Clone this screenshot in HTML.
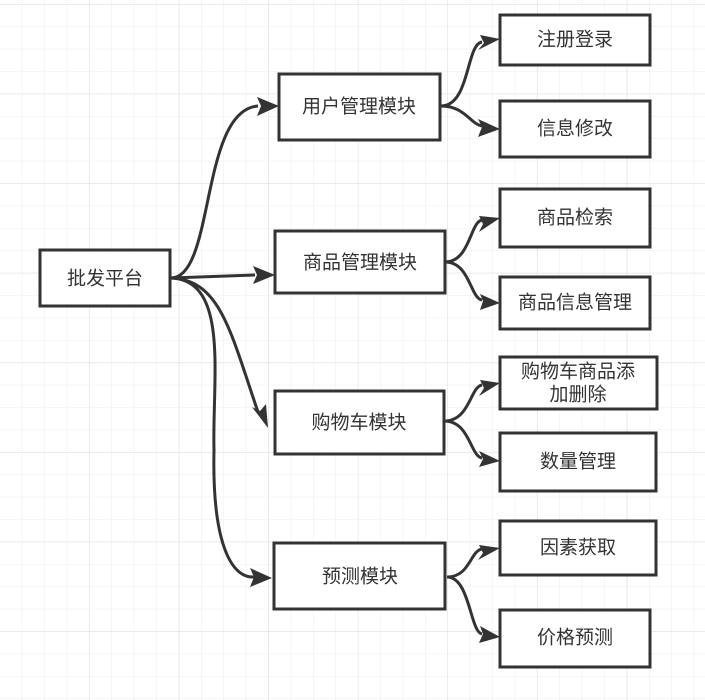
<!DOCTYPE html>
<html><head><meta charset="utf-8"><style>
html,body{margin:0;padding:0;background:#fff;}
svg{display:block}
text{font-family:"Liberation Sans","Noto Sans CJK SC",sans-serif;font-size:19px;fill:#333;text-anchor:middle;dominant-baseline:central}
</style></head><body>
<svg width="705" height="700" viewBox="0 0 705 700" xmlns="http://www.w3.org/2000/svg">
<defs>
<pattern id="g" x="0" y="4" width="22.4" height="22.4" patternUnits="userSpaceOnUse">
<path d="M22.4 0V22.4M0 0H22.4" stroke="#ececec" stroke-width="1" fill="none"/>
</pattern>
<pattern id="G" x="0" y="4" width="89.6" height="89.6" patternUnits="userSpaceOnUse">
<path d="M89.6 0V89.6M0 0H89.6" stroke="#e2e2e2" stroke-width="1.2" fill="none"/>
</pattern>
<marker id="a" viewBox="0 0 10 10" refX="9" refY="5" markerWidth="7" markerHeight="7" orient="auto" markerUnits="userSpaceOnUse" style="overflow:visible">
<path d="M-10 -6 L10 5 L-10 16 L-5 5 Z" fill="#333" transform="translate(0,0)"/>
</marker>
</defs>
<rect width="705" height="700" fill="url(#g)"/>
<rect width="705" height="700" fill="url(#G)"/>
<g fill="none" stroke="#333" stroke-width="3">
<path d="M171 278 C215 278 200 110 258 106"/>
<path d="M171 278 L255 275"/>
<path d="M171 278 C220 280 230 330 258 412"/>
<path d="M171 278 C230 280 212 380 214 450 C212 540 230 578 254 577"/>
<path d="M441 106 C470 106 466 44 482 42"/>
<path d="M441 106 C465 106 470 124 482 126"/>
<path d="M445 262 C470 262 470 222 482 220"/>
<path d="M445 262 C470 262 470 298 482 300"/>
<path d="M444 421 C470 421 470 387 482 385"/>
<path d="M444 421 C470 421 470 456 482 458"/>
<path d="M447 577 C470 577 470 551 482 549"/>
<path d="M447 577 C470 577 470 632 482 634"/>
</g>
<g fill="#333">
<polygon points="279,106 257,97 261,106 257,116"/>
<polygon points="275,275 253,266 257,275 253,284"/>
<polygon points="268,428 266,404 260,411 252,407"/>
<polygon points="272,578 250,568 254,577 250,587"/>
<polygon points="500,39 480,35 484,43 478,50"/>
<polygon points="500,129 478,119 482,127 478,137"/>
<polygon points="500,218 479,216 483,224 479,232"/>
<polygon points="500,303 480,294 483,301 480,310"/>
<polygon points="500,383 480,380 484,388 479,396"/>
<polygon points="500,461 479,451 483,459 479,467"/>
<polygon points="500,548 479,545 483,553 478,560"/>
<polygon points="500,637 480,626 483,634 479,643"/>
</g>
<g fill="#fff" stroke="#333" stroke-width="3">
<rect x="40" y="250" width="130" height="56"/>
<rect x="279" y="74" width="161" height="66"/>
<rect x="275" y="231" width="170" height="62"/>
<rect x="275" y="391" width="169" height="63"/>
<rect x="274" y="543" width="171" height="66"/>
<rect x="500" y="15" width="150" height="50"/>
<rect x="500" y="101" width="150" height="56"/>
<rect x="500" y="189" width="150" height="58"/>
<rect x="500" y="277" width="150" height="52"/>
<rect x="500" y="357" width="157" height="52"/>
<rect x="500" y="433" width="156" height="58"/>
<rect x="500" y="521" width="156" height="54"/>
<rect x="500" y="610" width="150" height="57"/>
</g>
<text x="105" y="279">批发平台</text>
<text x="359" y="107">用户管理模块</text>
<text x="360" y="263">商品管理模块</text>
<text x="359" y="423">购物车模块</text>
<text x="360" y="577">预测模块</text>
<text x="575" y="40">注册登录</text>
<text x="575" y="129">信息修改</text>
<text x="575" y="218">商品检索</text>
<text x="575" y="303">商品信息管理</text>
<text x="578" y="372">购物车商品添</text>
<text x="578" y="395">加删除</text>
<text x="578" y="462">数量管理</text>
<text x="578" y="548">因素获取</text>
<text x="575" y="638">价格预测</text>
</svg>
</body></html>
